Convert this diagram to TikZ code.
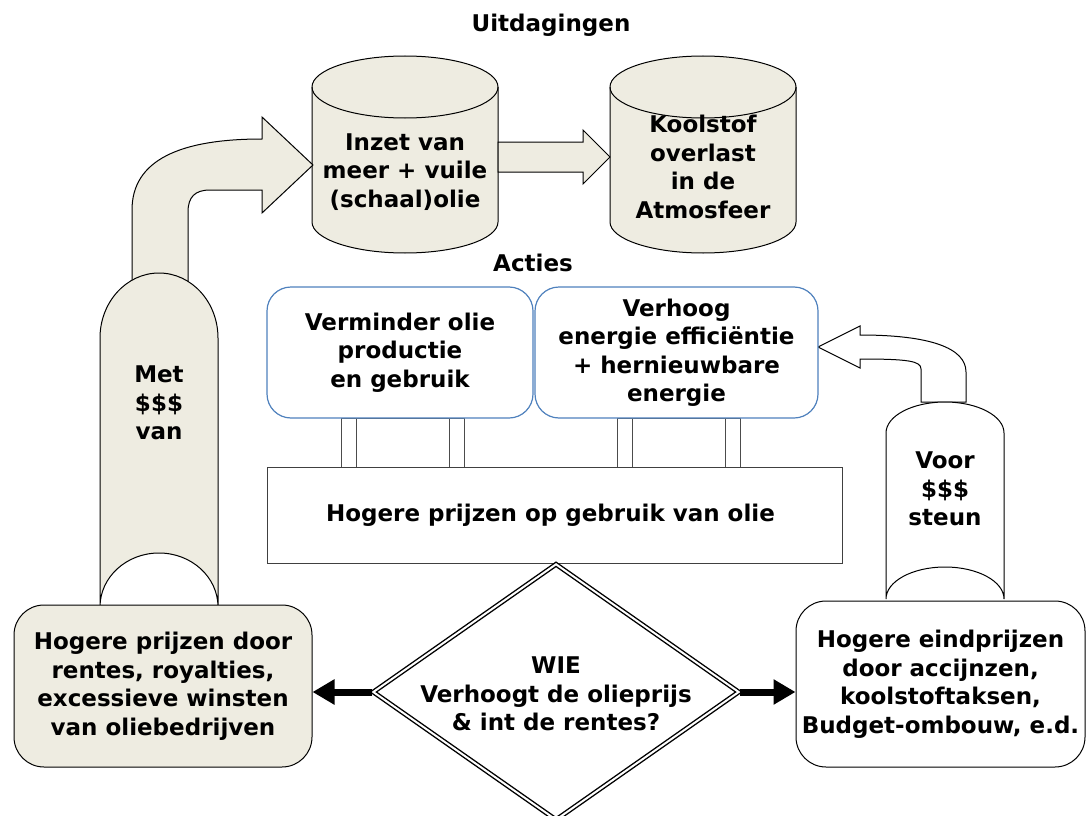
\documentclass[tikz,border=0pt]{standalone}
\usepackage{fontspec}
\setmainfont{DejaVu Sans}
\usetikzlibrary{arrows.meta,shapes.geometric}

\definecolor{beige}{RGB}{238,236,225}
\definecolor{actieblauw}{RGB}{79,129,189}

\tikzset{
  tekst/.style = {align=center, inner sep=0pt, font=\bfseries\fontsize{23}{28.5}\selectfont},
  vorm/.style = {draw=black, line width=1pt},
  actie/.style = {tekst, draw=actieblauw, line width=1.2pt, rounded corners=24pt, fill=white},
  doos/.style = {tekst, draw=black, line width=1pt, rounded corners=30pt},
  ruit/.style = {diamond, draw=black, line width=1.4pt, double, double distance=2pt,
    fill=white, aspect=1.43, inner sep=0pt, minimum width=366pt, minimum height=256pt},
  steun/.style = {draw=black!70, line width=0.8pt},
  dik/.style = {line width=7pt, -{Triangle[length=22pt, width=24pt]}}
}

\begin{document}
\begin{tikzpicture}[x=1pt, y=-1pt]
  \useasboundingbox (0, 0) rectangle (1087, 816);

  \node[tekst] (T1) at (551, 25) {Uitdagingen};

  \node[tekst] (T2) at (533, 263) {Acties};

  \foreach \cx in {405, 703} {
    \draw[vorm, fill=beige] (\cx-93, 87) -- (\cx-93, 222)
      arc[start angle=180, end angle=360, x radius=93pt, y radius=31pt]
      -- (\cx+93, 87)
      arc[start angle=0, end angle=180, x radius=93pt, y radius=31pt] -- cycle;
    \draw[vorm] (\cx-93, 87)
      arc[start angle=180, end angle=360, x radius=93pt, y radius=31pt];
  }

  \node[tekst] (C1) at (405, 172) {Inzet van\\meer + vuile\\(schaal)olie};

  \node[tekst] (C2) at (703, 167) {Koolstof\\overlast\\in de\\Atmosfeer};

  \draw[vorm, fill=beige] (498, 142) -- (583, 142) -- (583, 130) -- (610, 157)
    -- (583, 184) -- (583, 172) -- (498, 172) -- cycle;

  \draw[vorm, fill=beige] (132, 300) -- (132, 210)
    .. controls (132, 160) and (180, 139) .. (262, 139) -- (262, 117) -- (313, 165)
    -- (262, 213) -- (262, 190) -- (210, 190)
    .. controls (195, 190) and (188, 197) .. (188, 212) -- (188, 300) -- cycle;

  \draw[vorm, fill=beige] (100, 607) -- (100, 338)
    arc[start angle=180, end angle=0, x radius=59pt, y radius=65pt] -- (218, 607)
    arc[start angle=0, end angle=180, x radius=59pt, y radius=54pt] -- cycle;

  \node[tekst] (M1) at (159, 403) {Met\\\$\$\$\\van};

  \draw[vorm, fill=white] (921, 402) -- (921, 369)
    .. controls (921, 361) and (908, 359) .. (860, 359) -- (860, 368) -- (818, 347)
    -- (860, 326) -- (860, 335)
    .. controls (930, 335) and (966, 348) .. (966, 372) -- (966, 402) -- cycle;

  \draw[vorm, fill=white] (886, 599) -- (886, 433)
    arc[start angle=180, end angle=0, x radius=59pt, y radius=31pt] -- (1004, 599)
    arc[start angle=0, end angle=180, x radius=59pt, y radius=32pt] -- cycle;

  \node[tekst] (V1) at (945, 489) {Voor\\\$\$\$\\steun};

  \foreach \px in {341, 617} {
    \draw[steun] (\px, 418) rectangle (\px+123, 467);
    \draw[steun] (\px+15, 418) -- (\px+15, 467);
    \draw[steun] (\px+108, 418) -- (\px+108, 467);
  }

  \node[actie, minimum width=266pt, minimum height=131pt] (A1) at (400, 352.5) {
    Verminder olie\\productie\\en gebruik
  };

  \node[actie, minimum width=283pt, minimum height=131pt] (A2) at (676.5, 352.5) {
    Verhoog\\energie efficiëntie\\+ hernieuwbare\\energie
  };

  \node[tekst, draw=black!75, line width=1pt, fill=white,
    minimum width=575pt, minimum height=96pt] (P1) at (554.5, 515) {
    Hogere prijzen op gebruik van olie
  };

  \node[ruit] (W1) at (556, 692) {};

  \node[tekst] (W2) at (556, 694) {WIE\\Verhoogt de olieprijs\\\& int de rentes?};

  \node[doos, fill=beige, minimum width=298pt, minimum height=162pt] (L1) at (163, 686) {
    Hogere prijzen door\\rentes, royalties,\\excessieve winsten\\van oliebedrijven
  };

  \node[doos, fill=white, minimum width=289pt, minimum height=166pt] (R1) at (940.5, 684) {
    Hogere eindprijzen\\door accijnzen,\\koolstoftaksen,\\Budget-ombouw, e.d.
  };

  \draw[dik] (W1.west) -- (W1.west -| L1.east);
  \draw[dik] (W1.east) -- (W1.east -| R1.west);
\end{tikzpicture}
\end{document}
